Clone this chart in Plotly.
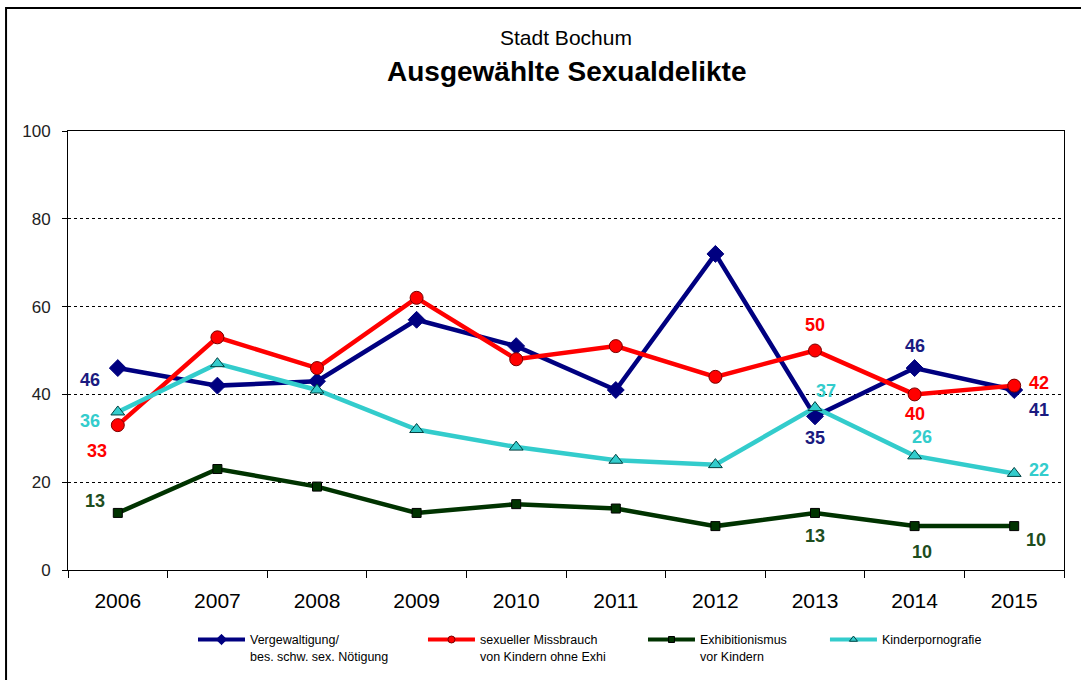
import plotly.graph_objects as go

years = ["2006", "2007", "2008", "2009", "2010", "2011", "2012", "2013", "2014", "2015"]
vergewaltigung = [46, 42, 43, 57, 51, 41, 72, 35, 46, 41]
missbrauch = [33, 53, 46, 62, 48, 51, 44, 50, 40, 42]
exhibitionismus = [13, 23, 19, 13, 15, 14, 10, 13, 10, 10]
kinderporno = [36, 47, 41, 32, 28, 25, 24, 37, 26, 22]

names = ["Vergewaltigung/<br>bes. schw. sex. Nötigung",
         "sexueller Missbrauch<br>von Kindern ohne Exhi",
         "Exhibitionismus<br>vor Kindern",
         "Kinderpornografie"]

# which points carry a value label (series key, index)
labelled_points = [
    ("v", 0), ("v", 7), ("v", 8), ("v", 9),
    ("m", 0), ("m", 7), ("m", 8), ("m", 9),
    ("e", 0), ("e", 7), ("e", 8), ("e", 9),
    ("k", 0), ("k", 7), ("k", 8), ("k", 9),
]
# pixel offsets for labels (style only)
label_offsets = {
    ("v", 0): (-28, -12), ("v", 7): (0, -22), ("v", 8): (0, 22), ("v", 9): (25, -20),
    ("m", 0): (-21, -26), ("m", 7): (0, 26), ("m", 8): (0, -20), ("m", 9): (25, 3),
    ("e", 0): (-23, 12), ("e", 7): (0, -23), ("e", 8): (7, -26), ("e", 9): (22, -14),
    ("k", 0): (-28, -9), ("k", 7): (11, 17), ("k", 8): (7, 19), ("k", 9): (25, 3),
}

series = {
    "v": dict(y=vergewaltigung, name=names[0], color="#000080", sym="diamond", size=13,
              lsize=8, ocol="#000080", lcol="#1a1a80", legend="legend", lx=0.1255),
    "m": dict(y=missbrauch, name=names[1], color="#FF0000", sym="circle", size=13,
              lsize=7, ocol="#7a0000", lcol="#FF0000", legend="legend2", lx=0.3564),
    "e": dict(y=exhibitionismus, name=names[2], color="#003300", sym="square", size=9,
              lsize=6, ocol="#000000", lcol="#1e4d1e", legend="legend3", lx=0.5773),
    "k": dict(y=kinderporno, name=names[3], color="#33CCCC", sym="triangle-up", size=12,
              lsize=7, ocol="#004040", lcol="#33CCCC", legend="legend4", lx=0.760),
}

fig = go.Figure()
legend_layouts = {}
for key in ["v", "m", "e", "k"]:
    s = series[key]
    fig.add_trace(go.Scatter(
        x=list(range(len(years))), y=s["y"], name=s["name"], mode="lines+markers",
        line=dict(color=s["color"], width=4.5),
        marker=dict(symbol=s["sym"], size=s["size"], color=s["color"],
                    line=dict(color=s["ocol"], width=1)),
        showlegend=False,
    ))
    # legend entry with a small marker, as in the original
    fig.add_trace(go.Scatter(
        x=[None], y=[None], name=s["name"], mode="lines+markers",
        line=dict(color=s["color"], width=4),
        marker=dict(symbol=s["sym"], size=s["lsize"], color=s["color"],
                    line=dict(color=s["ocol"], width=1)),
        legend=s["legend"], showlegend=True, hoverinfo="skip",
    ))
    legend_layouts[s["legend"]] = dict(
        x=s["lx"], y=-0.125, xanchor="left", yanchor="top", valign="top",
        orientation="h", itemwidth=47, bgcolor="rgba(0,0,0,0)",
        font=dict(family="Arial, Liberation Sans", size=12.5, color="black"),
    )

for key, i in labelled_points:
    s = series[key]
    dx, dy = label_offsets[(key, i)]
    fig.add_annotation(x=i, y=s["y"][i], text="<b>%d</b>" % s["y"][i], showarrow=False,
                       xshift=dx, yshift=dy,
                       font=dict(family="Arial, Liberation Sans", size=18, color=s["lcol"]),
                       xanchor="center", yanchor="middle")

fig.add_annotation(x=0.5, y=1.0, xref="paper", yref="paper", yshift=94, showarrow=False,
                   text="Stadt Bochum", xanchor="center", yanchor="middle",
                   font=dict(family="Arial, Liberation Sans", size=21, color="black"))
fig.add_annotation(x=0.5, y=1.0, xref="paper", yref="paper", yshift=60, showarrow=False,
                   text="<b>Ausgewählte Sexualdelikte</b>", xanchor="center", yanchor="middle",
                   font=dict(family="Arial, Liberation Sans", size=28, color="black"))

# outer chart frame
fig.add_shape(type="rect", xref="paper", yref="paper", x0=-0.0622, x1=1.05, y0=-0.5, y1=1.28,
              line=dict(color="black", width=2), fillcolor="rgba(0,0,0,0)", layer="below")

fig.update_layout(
    width=1081, height=680,
    margin=dict(l=68, r=17, t=131, b=110, autoexpand=False),
    paper_bgcolor="white", plot_bgcolor="white",
    font=dict(family="Arial, Liberation Sans", color="black"),
    showlegend=True,
    xaxis=dict(type="linear", range=[-0.5, 9.5], tickvals=list(range(len(years))),
               ticktext=years, ticks="", showline=True, linecolor="black", linewidth=1,
               mirror=True, showgrid=False, zeroline=False, ticklabelstandoff=12,
               tickfont=dict(size=21, color="black")),
    xaxis2=dict(overlaying="x", matches="x", range=[-0.5, 9.5],
                tickvals=[i - 0.5 for i in range(len(years) + 1)], showticklabels=False,
                ticks="outside", ticklen=7, tickcolor="black", side="bottom",
                showgrid=False, zeroline=False, showline=False, anchor="y"),
    yaxis=dict(range=[0, 100], tickvals=[0, 20, 40, 60, 80, 100],
               ticks="outside", ticklen=5, tickcolor="black",
               showline=True, linecolor="black", linewidth=1, mirror=True,
               showgrid=True, gridcolor="black", griddash="dot", gridwidth=1,
               zeroline=False, ticklabelstandoff=8, tickfont=dict(size=17, color="#222222")),
    **legend_layouts,
)
# a hidden trace so the tick-only axis is drawn
fig.add_trace(go.Scatter(x=[0], y=[0], xaxis="x2", mode="none", showlegend=False,
                         hoverinfo="skip"))

fig.write_html("out.html", config={"displayModeBar": False},
               post_script="document.body.style.margin='0';")
